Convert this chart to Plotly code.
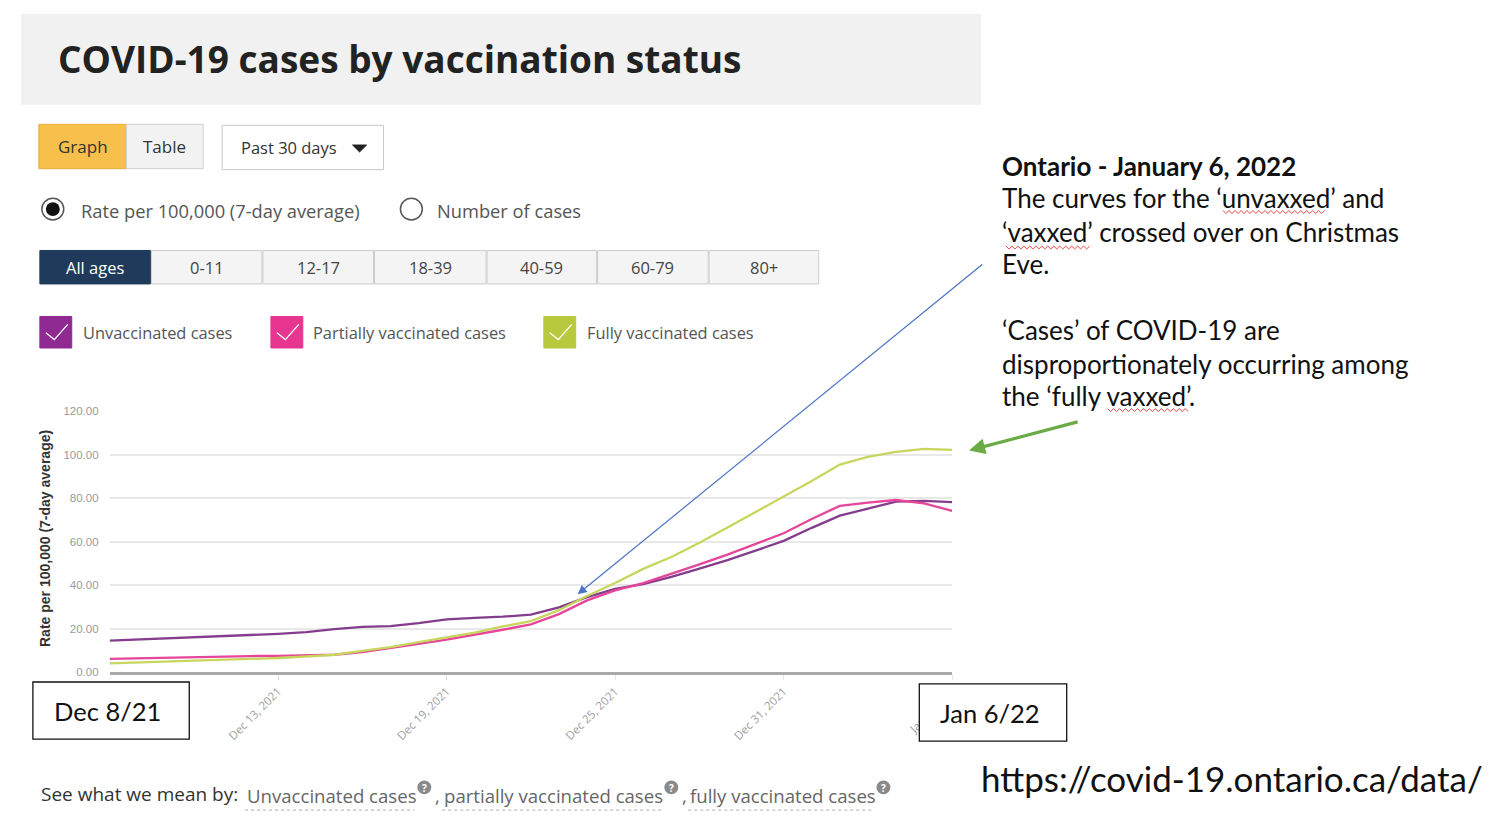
import plotly.graph_objects as go
import pandas as pd

# ---------------- data ----------------
dates = pd.date_range("2021-12-07", "2022-01-06", freq="D").strftime("%Y-%m-%d").tolist()

unvaccinated = [14.5, 15.0, 15.5, 16.0, 16.4, 16.8, 17.6, 18.4, 19.8, 20.8, 21.2,
                22.5, 24.3, 25.0, 25.5, 26.5, 29.8, 34.5, 38.3, 40.5, 43.8, 47.6,
                51.5, 55.9, 60.4, 66.4, 72.0, 75.2, 78.5, 78.8, 78.2]
partially = [6.1, 6.4, 6.7, 7.0, 7.2, 7.4, 7.5, 7.7, 8.0, 9.2, 11.0,
             13.0, 15.0, 17.2, 19.5, 22.0, 26.7, 33.0, 37.6, 41.0, 45.2, 49.6,
             54.1, 59.1, 63.9, 70.5, 76.5, 78.0, 79.2, 77.7, 74.2]
fully = [4.0, 4.4, 4.8, 5.2, 5.6, 6.0, 6.5, 7.2, 8.0, 9.8, 11.5,
         13.8, 16.0, 18.2, 21.0, 23.5, 28.5, 35.0, 41.0, 47.5, 53.0, 59.5,
         66.5, 73.5, 80.8, 88.0, 95.5, 99.0, 101.3, 102.7, 102.3]

series_names = ["Unvaccinated cases", "Partially vaccinated cases", "Fully vaccinated cases"]
tick_dates = ["2021-12-13", "2021-12-19", "2021-12-25", "2021-12-31", "2022-01-06"]
tick_text = ["Dec 13, 2021", "Dec 19, 2021", "Dec 25, 2021", "Dec 31, 2021", "Jan 6, 2022"]
y_ticks = [0, 20, 40, 60, 80, 100, 120]
y_tick_text = ["0.00", "20.00", "40.00", "60.00", "80.00", "100.00", "120.00"]
age_groups = ["All ages", "0-11", "12-17", "18-39", "40-59", "60-79", "80+"]

note_lines = [
    "<b>Ontario - January 6, 2022</b>",
    "The curves for the \u2018unvaxxed\u2019 and",
    "\u2018vaxxed\u2019 crossed over on Christmas",
    "Eve.",
    "",
    "\u2018Cases\u2019 of COVID-19 are",
    "disproportionately occurring among",
    "the \u2018fully vaxxed\u2019.",
]

# ---------------- styling ----------------
# page body has an 8px margin, so the figure starts at page pixel (8, 8)
OFF = 8
W, H = 1484, 812
UI = "Open Sans"
NOTE = "Lato"
LINE_COLORS = ["#843d8c", "#e6469a", "#c8d65e"]
SWATCH_COLORS = ["#8e2a91", "#e8358f", "#b9c93d"]


def X(px):
    return (px - OFF) / W


def Y(py):
    return 1 - (py - OFF) / H


shapes = []
annotations = []


def rect(x0, y0, x1, y1, fill, line="rgba(0,0,0,0)", lw=1, layer="above"):
    shapes.append(dict(type="rect", xref="paper", yref="paper",
                       x0=X(x0), x1=X(x1), y0=Y(y1), y1=Y(y0),
                       fillcolor=fill, line=dict(color=line, width=lw), layer=layer))


def circle(cx, cy, r, fill, line="rgba(0,0,0,0)", lw=1):
    shapes.append(dict(type="circle", xref="paper", yref="paper",
                       x0=X(cx - r), x1=X(cx + r), y0=Y(cy + r), y1=Y(cy - r),
                       fillcolor=fill, line=dict(color=line, width=lw), layer="above"))


def path(points, color, width=1, fill=None, close=False, dash="solid"):
    d = "M " + " L ".join(f"{X(px):.6f},{Y(py):.6f}" for px, py in points)
    if close:
        d += " Z"
    shapes.append(dict(type="path", xref="paper", yref="paper", path=d,
                       line=dict(color=color, width=width, dash=dash),
                       fillcolor=fill if fill else "rgba(0,0,0,0)", layer="above"))


def text(t, x, y, size, color="#333", family=UI, xanchor="left", yanchor="middle", **kw):
    annotations.append(dict(text=t, x=X(x), y=Y(y), xref="paper", yref="paper",
                            xanchor=xanchor, yanchor=yanchor, showarrow=False,
                            font=dict(size=size, color=color, family=family), **kw))


# title band
rect(21, 8, 985, 100, "#f1f1f1", layer="below")
text("<b>COVID-19 cases by vaccination status</b>", 56, 53, 37, "#222")

# Graph / Table buttons
rect(39, 120, 127, 165, "#f7c04a", "#e8b03a")
rect(127, 120, 204, 165, "#f2f2f2", "#cfcfcf")
text("Graph", 83, 142, 17, "#333", xanchor="center")
text("Table", 165, 142, 17, "#333", xanchor="center")

# dropdown
rect(223, 121, 385, 166, "#ffffff", "#c8c8c8")
text("Past 30 days", 240, 143, 16.5, "#333")
path([(354, 141), (368, 141), (361, 148)], "#222", 1, fill="#222", close=True)

# radio buttons
circle(53, 206, 11, "#ffffff", "#555", 1.5)
circle(53, 206, 7, "#111111")
text("Rate per 100,000 (7-day average)", 79, 207, 18.3, "#555")
circle(413, 206, 11, "#ffffff", "#555", 1.5)
text("Number of cases", 437, 207, 18.3, "#555")

# age tabs
tab_x = [40, 152, 264, 376, 489, 600, 712, 823]
for i, g in enumerate(age_groups):
    x0, x1 = tab_x[i], tab_x[i + 1] - 1
    if i == 0:
        rect(x0, 248, x1, 282, "#1f3a5a", "#1f3a5a")
        text(g, (x0 + x1) / 2, 265, 16.5, "#ffffff", xanchor="center")
    else:
        rect(x0, 248, x1, 282, "#f4f4f4", "#cccccc")
        text(g, (x0 + x1) / 2, 265, 16.5, "#444", xanchor="center")

# legend swatches with check marks
legend_x = [40, 272, 546]
legend_text_x = [81, 312, 587]
for i in range(3):
    lx = legend_x[i]
    rect(lx, 315, lx + 32, 347, SWATCH_COLORS[i], SWATCH_COLORS[i])
    path([(lx + 6, 331.5), (lx + 14.5, 338.5), (lx + 28, 323)], "#ffffff", 1.3)
    text(series_names[i], legend_text_x[i], 331, 16.4, "#555")

# y axis title
text("<b>Rate per 100,000 (7-day average)</b>", 45, 540, 14, "#333",
     family="Liberation Sans", xanchor="center", yanchor="middle", textangle=-90)

# bottom definitions row
text("See what we mean by:", 39, 800, 19, "#333")
link_parts = [("Unvaccinated cases", 246, 416, 426), ("partially vaccinated cases", 444, 664, 674),
              ("fully vaccinated cases", 691, 878, 887)]
for i, (t, x0, x1, qx) in enumerate(link_parts):
    text(t, x0, 801, 18.6, "#666")
    path([(x0, 816), (x1, 816)], "#aaaaaa", 1, dash="dot")
    circle(qx, 793, 7, "#8a8a8a")
    text("<b>?</b>", qx, 793.5, 10, "#ffffff", xanchor="center")
    if i < 2:
        text(",", x1 + 19, 801, 18.6, "#666")

# right-hand note
note_y = [162, 195, 229, 262, 296, 329, 363, 396]
for t, ny in zip(note_lines, note_y):
    if t:
        text(t, 1004, ny, 26, "#111", family=NOTE)


def squiggle(x0, x1, y):
    pts = []
    x = x0
    k = 0
    while x <= x1:
        pts.append((x, y + (1.5 if k % 2 else -1.5)))
        x += 3
        k += 1
    path(pts, "#e03030", 0.9)


squiggle(1228, 1332, 209)
squiggle(1010, 1094, 245)
squiggle(1112, 1194, 410)

# URL
text("https://covid-19.ontario.ca/data/", 983, 783, 35, "#111", family=NOTE)

# date boxes
rect(33, 686, 190, 744, "#ffffff", "#111", 1.3)
text("Dec 8/21", 108, 715, 25.5, "#111", family=NOTE, xanchor="center")
rect(923, 688, 1071, 746, "#ffffff", "#111", 1.3)
text("Jan 6/22", 994, 717, 25.5, "#111", family=NOTE, xanchor="center")

# arrows
annotations.append(dict(x=X(580), y=Y(597), xref="paper", yref="paper", text="",
                        showarrow=True, ax=986 - 580, ay=266 - 597, arrowhead=2,
                        arrowsize=1.5, arrowwidth=1.2, arrowcolor="#4a74c4", standoff=0))
annotations.append(dict(x=X(973), y=Y(451), xref="paper", yref="paper", text="",
                        showarrow=True, ax=1083 - 973, ay=422 - 451, arrowhead=2,
                        arrowsize=1, arrowwidth=3.2, arrowcolor="#6aab45", standoff=0))

# ---------------- figure ----------------
fig = go.Figure()
for name, vals, col in zip(series_names, [unvaccinated, partially, fully], LINE_COLORS):
    fig.add_trace(go.Scatter(x=dates, y=vals, mode="lines", name=name,
                             line=dict(color=col, width=2.3)))

fig.update_layout(
    width=W, height=H,
    margin=dict(l=0, r=0, t=0, b=0, pad=0),
    paper_bgcolor="#ffffff", plot_bgcolor="#ffffff",
    showlegend=False,
    shapes=shapes, annotations=annotations,
    xaxis=dict(domain=[X(110), X(956)], type="date",
               range=[dates[0], dates[-1]],
               tickvals=tick_dates, ticktext=tick_text, tickangle=-45,
               tickfont=dict(size=11.5, color="#a0a0a0", family=UI),
               showgrid=False, zeroline=False,
               showline=True, linecolor="#a9a9a9", linewidth=3,
               ticks="outside", ticklen=5, tickcolor="#e4e4e4"),
    yaxis=dict(domain=[Y(676), Y(411.3)], range=[0, 120],
               tickvals=y_ticks, ticktext=y_tick_text,
               tickfont=dict(size=11.5, color="#9a9a9a", family="Liberation Sans"),
               showgrid=True, gridcolor="#e8e8e8", gridwidth=2,
               zeroline=False, ticklabelstandoff=10),
)

fig.write_html("out.html")
